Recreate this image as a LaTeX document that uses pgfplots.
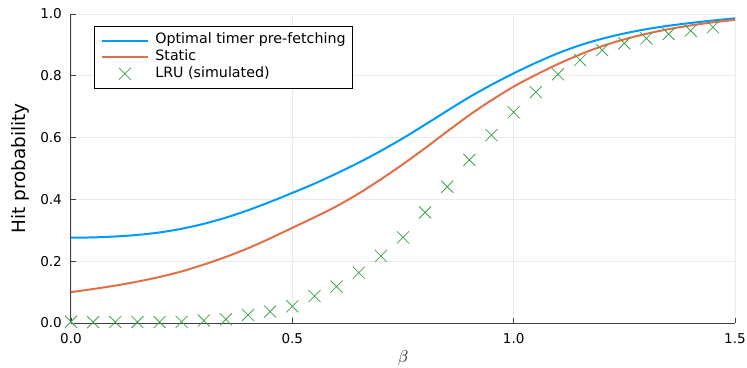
\documentclass[border=0pt]{standalone}
\usepackage{pgfplots}
\pgfplotsset{compat=1.18}
\usepackage{fontspec}
\setmainfont{DejaVu Sans}
\definecolor{c1}{HTML}{009AFA}
\definecolor{c2}{HTML}{E36F47}
\definecolor{c3}{HTML}{3EA44E}
\pgfplotsset{
  lineleg/.style={legend image code/.code={\draw[##1] (0bp,0bp) -- (46bp,0bp);}},
  markleg/.style={legend image code/.code={\draw[##1] plot[only marks] coordinates {(23bp,0bp)};}},
}
\begin{document}
\begin{tikzpicture}
\useasboundingbox (-71bp,-45bp) rectangle (676bp,323bp);
\begin{axis}[
  at={(0,0)}, anchor=south west,
  width=664bp, height=309bp, scale only axis,
  xmin=0, xmax=1.5, ymin=0, ymax=1,
  clip=false,
  axis x line*=bottom, axis y line*=left,
  axis line style={black!75, line width=1bp, -},
  xtick={0,0.5,1,1.5}, ytick={0,0.2,0.4,0.6,0.8,1},
  tick align=inside, major tick length=5bp,
  tick style={black!75, line width=0.8bp},
  grid=major, grid style={black!8, line width=0.8bp},
  /pgf/number format/.cd, fixed, fixed zerofill, precision=1, assume math mode=true, /pgfplots/.cd,
  xticklabel style={font=\fontsize{13.6}{16}\selectfont, inner sep=0pt, anchor=north, yshift=-10bp},
  yticklabel style={font=\fontsize{13.6}{16}\selectfont, inner sep=0pt, anchor=east, xshift=-9bp},
  xlabel={$\beta$},
  ylabel={Hit probability},
  xlabel style={font=\fontsize{18}{20}\selectfont, at={(axis description cs:0.5,-0.128)}, anchor=base, inner sep=0pt},
  ylabel style={font=\fontsize{18.5}{20}\selectfont, at={(axis description cs:-0.0685,0.5)}, anchor=base, inner sep=0pt},
  legend style={at={(axis description cs:0.0346,0.962)}, anchor=north west,
    draw=black, line width=0.8bp, inner xsep=6.5bp, inner ysep=7.5bp,
    font=\fontsize{14.3}{16}\selectfont,
    nodes={inner sep=0pt, text height=10.2bp, text depth=3.6bp, line width=0.8bp},
    row sep=2.8bp, column sep=6.5bp},
  legend cell align=left,
]
\addplot[c1, line width=2bp, smooth, lineleg] coordinates {
(0.00,0.276)(0.05,0.277)(0.10,0.280)(0.15,0.285)(0.20,0.293)(0.25,0.305)
(0.30,0.321)(0.35,0.341)(0.40,0.365)(0.45,0.392)(0.50,0.421)(0.55,0.451)
(0.60,0.484)(0.65,0.519)(0.70,0.557)(0.75,0.598)(0.80,0.642)(0.85,0.687)
(0.90,0.731)(0.95,0.771)(1.00,0.808)(1.05,0.842)(1.10,0.873)(1.15,0.899)
(1.20,0.920)(1.25,0.937)(1.30,0.951)(1.35,0.962)(1.40,0.971)(1.45,0.979)(1.50,0.986)};
\addlegendentry{Optimal timer pre-fetching}
\addplot[c2, line width=2bp, smooth, lineleg] coordinates {
(0.00,0.100)(0.05,0.110)(0.10,0.121)(0.15,0.134)(0.20,0.149)(0.25,0.167)
(0.30,0.189)(0.35,0.214)(0.40,0.242)(0.45,0.274)(0.50,0.308)(0.55,0.342)
(0.60,0.378)(0.65,0.419)(0.70,0.465)(0.75,0.514)(0.80,0.566)(0.85,0.620)
(0.90,0.673)(0.95,0.721)(1.00,0.765)(1.05,0.803)(1.10,0.838)(1.15,0.869)
(1.20,0.896)(1.25,0.918)(1.30,0.936)(1.35,0.951)(1.40,0.963)(1.45,0.973)(1.50,0.981)};
\addlegendentry{Static}
\addplot[c3, only marks, mark=x, mark size=8.5bp, mark options={line width=0.8bp}, markleg] coordinates {
(0.00,0.004)(0.05,0.003)(0.10,0.003)(0.15,0.003)(0.20,0.003)(0.25,0.004)
(0.30,0.008)(0.35,0.012)(0.40,0.026)(0.45,0.037)(0.50,0.054)(0.55,0.087)
(0.60,0.118)(0.65,0.163)(0.70,0.217)(0.75,0.277)(0.80,0.358)(0.85,0.441)
(0.90,0.528)(0.95,0.608)(1.00,0.682)(1.05,0.747)(1.10,0.805)(1.15,0.851)
(1.20,0.883)(1.25,0.905)(1.30,0.921)(1.35,0.935)(1.40,0.946)(1.45,0.957)};
\addlegendentry{LRU (simulated)}
\end{axis}
\end{tikzpicture}
\end{document}
